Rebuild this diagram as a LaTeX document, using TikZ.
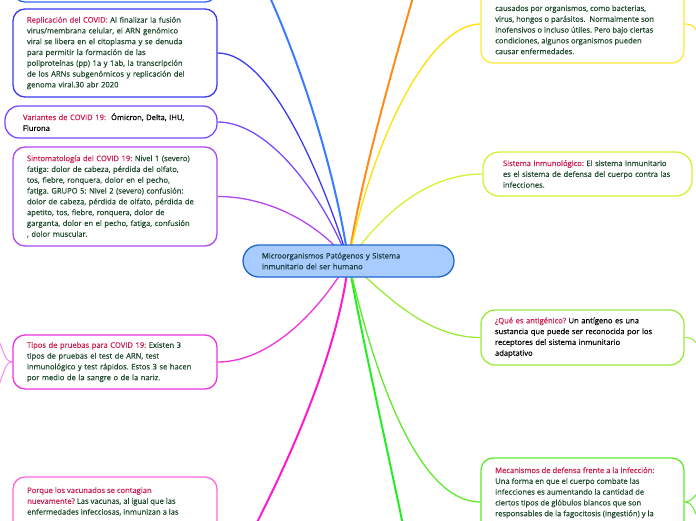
\documentclass[tikz,border=0pt]{standalone}
\usepackage{fontspec}
\setmainfont[FakeBold=0.6]{Open Sans}
\frenchspacing
\definecolor{cRep}{HTML}{3A3AF0}
\definecolor{cVar}{HTML}{7B4BFF}
\definecolor{cSint}{HTML}{B347F0}
\definecolor{cTipos}{HTML}{EE33E0}
\definecolor{cTiposL}{HTML}{F38BF0}
\definecolor{cPorque}{HTML}{FF66E0}
\definecolor{cYel}{HTML}{FFE83A}
\definecolor{cYelL}{HTML}{FFE000}
\definecolor{cSis}{HTML}{D8F033}
\definecolor{cQue}{HTML}{9BEA3A}
\definecolor{cMec}{HTML}{5EEA2A}
\definecolor{cGreen}{HTML}{22EE22}
\definecolor{cMag}{HTML}{FF19CC}
\definecolor{cOrange}{HTML}{FF8C1A}
\definecolor{cBlueTop}{HTML}{3A7BFF}
\definecolor{cTop}{HTML}{3366FF}
\definecolor{cCenter}{HTML}{A8CCFF}
\definecolor{cCenterB}{HTML}{1F66CC}
\definecolor{titc}{HTML}{CC1F4F}
\definecolor{bodyc}{HTML}{1F4A2E}
\definecolor{ctext}{HTML}{1D3F3F}
\pgfdeclarelayer{bg}
\pgfsetlayers{bg,main}
\newcommand\tit[1]{\textcolor{titc}{#1}}
\tikzset{
  txt/.style={font=\fontsize{7.6}{10.8}\selectfont\frenchspacing, text=bodyc},
  box/.style={txt, draw, line width=1.3pt, rounded corners=12pt, fill=white,
    align=left, inner xsep=14pt, inner ysep=0pt},
  boxtext/.style={txt, align=left, inner sep=0pt, anchor=north west},
  conn/.style={line width=1.3pt},
  trunk/.style={line width=2pt},
  twig/.style={line width=1pt},
}
\begin{document}
\begin{tikzpicture}[x=1pt,y=-1pt]
\useasboundingbox (0,0) rectangle (696,520);
\clip (0,0) rectangle (696,520);
% center
\node[txt, draw=cCenterB, fill=cCenter, rounded corners=16pt, line width=1.3pt,
  minimum width=211pt, minimum height=32pt, inner xsep=19pt, inner ysep=0pt,
  text width=173pt, align=left, text=ctext] (c) at (348.5,261)
  {Microorganismos Patógenos y Sistema\\inmunitario del ser humano};
% left
\node[box, draw=cTop, minimum width=204pt, minimum height=72pt] (top) at (115,-34) {};
\node[box, draw=cRep, minimum width=204pt, minimum height=88pt, text width=176pt] (rep) at (115,53)
 {\tit{Replicación del COVID:}\ Al finalizar la fusión\\
  virus/membrana celular, el ARN genómico\\
  viral se libera en el citoplasma y se denuda\\
  para permitir la formación de las\\
  poliproteínas (pp) 1a y 1ab, la transcripción\\
  de los ARNs subgenómicos y replicación del\\
  genoma viral.30 abr 2020};
\node[box, draw=cVar, rounded corners=14pt, inner xsep=18pt, minimum width=212pt, minimum height=32pt,
  text width=176pt, text=black] (var) at (111,122)
 {\tit{Variantes de COVID 19:}\ \ Ómicron, Delta, IHU,\\Flurona};
\node[box, draw=cSint, minimum width=204pt, minimum height=99pt, text width=176pt] (sint) at (115,196.5)
 {\tit{Sintomatología del COVID 19:} Nivel 1 (severo)\\
  fatiga: dolor de cabeza, pérdida del olfato,\\
  tos, fiebre, ronquera, dolor en el pecho,\\
  fatiga. GRUPO 5: Nivel 2 (severo) confusión:\\
  dolor de cabeza, pérdida de olfato, pérdida de\\
  apetito, tos, fiebre, ronquera, dolor de\\
  garganta, dolor en el pecho, fatiga, confusión\\
  , dolor muscular.};
\node[box, draw=cTipos, minimum width=204pt, minimum height=54pt, text width=176pt] (tipos) at (115,362)
 {\tit{Tipos de pruebas para COVID 19:}\ Existen 3\\
  tipos de pruebas el test de ARN, test\\
  inmunológico y test rápidos. Estos 3 se hacen\\
  por medio de la sangre o de la nariz.};
\node[box, draw=cPorque, minimum width=204pt, minimum height=100pt] (porque) at (115,527) {};
\node[boxtext] (porquet) at (27,487)
 {\tit{Porque los vacunados se contagian}\\
  \tit{nuevamente?} Las vacunas, al igual que las\\
  enfermedades infecciosas, inmunizan a las};
% right
\node[box, draw=cYel, minimum width=203pt, minimum height=78pt] (yel) at (582.5,24) {};
\node[boxtext] (yelt) at (495,5)
 {causados por organismos, como bacterias,\\
  virus, hongos o parásitos.\ \ Normalmente son\\
  inofensivos o incluso útiles. Pero bajo ciertas\\
  condiciones, algunos organismos pueden\\
  causar enfermedades.};
\node[box, draw=cSis, rounded corners=16pt, inner xsep=20pt, minimum width=209pt, minimum height=44pt,
  text width=169pt] (sis) at (587.5,174)
 {\tit{Sistema inmunológico:}\ El sistema inmunitario\\
  es el sistema de defensa del cuerpo contra las\\
  infecciones.};
\node[box, draw=cQue, rounded corners=14pt, minimum width=203pt, minimum height=55pt,
  text width=175pt, text=black] (que) at (582.5,337.5)
 {\tit{¿Qué es antigénico?} Un antígeno es una\\
  sustancia que puede ser reconocida por los\\
  receptores del sistema inmunitario\\
  adaptativo};
\node[box, draw=cMec, minimum width=203pt, minimum height=88pt] (mec) at (582.5,502) {};
\node[boxtext] (mect) at (495,467)
 {\tit{Mecanismos de defensa frente a la infección:}\\
  Una forma en que el cuerpo combate las\\
  infecciones es aumentando la cantidad de\\
  ciertos tipos de glóbulos blancos que son\\
  responsables de la fagocitosis (ingestión) y la};
% free ends
\coordinate (eBlue) at (262,-20);
\coordinate (eOrange) at (418,-20);
\coordinate (eMag) at (248,540);
\coordinate (eGreen) at (406,540);
\coordinate (tUp) at (-12,322);
\coordinate (tDown) at (-12,406);
\coordinate (yR) at (706,48);
\coordinate (qR) at (706,362);
\coordinate (mUp) at (706,488);
\coordinate (mDown) at (704,532);
\begin{pgfonlayer}{bg}
\draw[trunk, cBlueTop] (c.center) .. controls (335,170) and (300,60) .. (eBlue);
\draw[trunk, cOrange] (c.center) .. controls (360,180) and (395,60) .. (eOrange);
\draw[trunk, cMag] (c.center) .. controls (340,340) and (300,440) .. (eMag);
\draw[trunk, cGreen] (c.center) .. controls (360,330) and (390,460) .. (eGreen);
\draw[conn, cRep] (rep.east) .. controls +(58,0) and (330,200) .. (c.center);
\draw[conn, cVar] (var.east) .. controls +(53,0) and (325,200) .. (c.center);
\draw[conn, cSint] (sint.east) .. controls +(53,0) and (320,225) .. (c.center);
\draw[conn, cTipos] (tipos.east) .. controls +(53,0) and (320,310) .. (c.center);
\draw[conn, cYelL] (yel.west) .. controls +(-51,0) and (372,140) .. (c.center);
\draw[conn, cSis] (sis.west) .. controls +(-53,0) and (385,210) .. (c.center);
\draw[conn, cQue] (que.west) .. controls +(-51,0) and (390,300) .. (c.center);
\draw[conn, cMec] (mec.west) .. controls +(-61,0) and (375,380) .. (c.center);
\draw[twig, cTiposL] (tipos.west) .. controls +(-10,0) and (5,345) .. (tUp);
\draw[twig, cTiposL] (tipos.west) .. controls +(-10,0) and (5,380) .. (tDown);
\draw[twig, cYelL] (yel.east) .. controls +(10,0) and (696,28) .. (yR);
\draw[twig, cQue] (que.east) .. controls +(10,0) and (697,342) .. (qR);
\draw[twig, cMec] (mec.east) .. controls +(8,0) and (694,494) .. (mUp);
\draw[twig, cMec] (mec.east) .. controls +(8,0) and (694,510) .. (mDown);
\end{pgfonlayer}
\end{tikzpicture}
\end{document}
